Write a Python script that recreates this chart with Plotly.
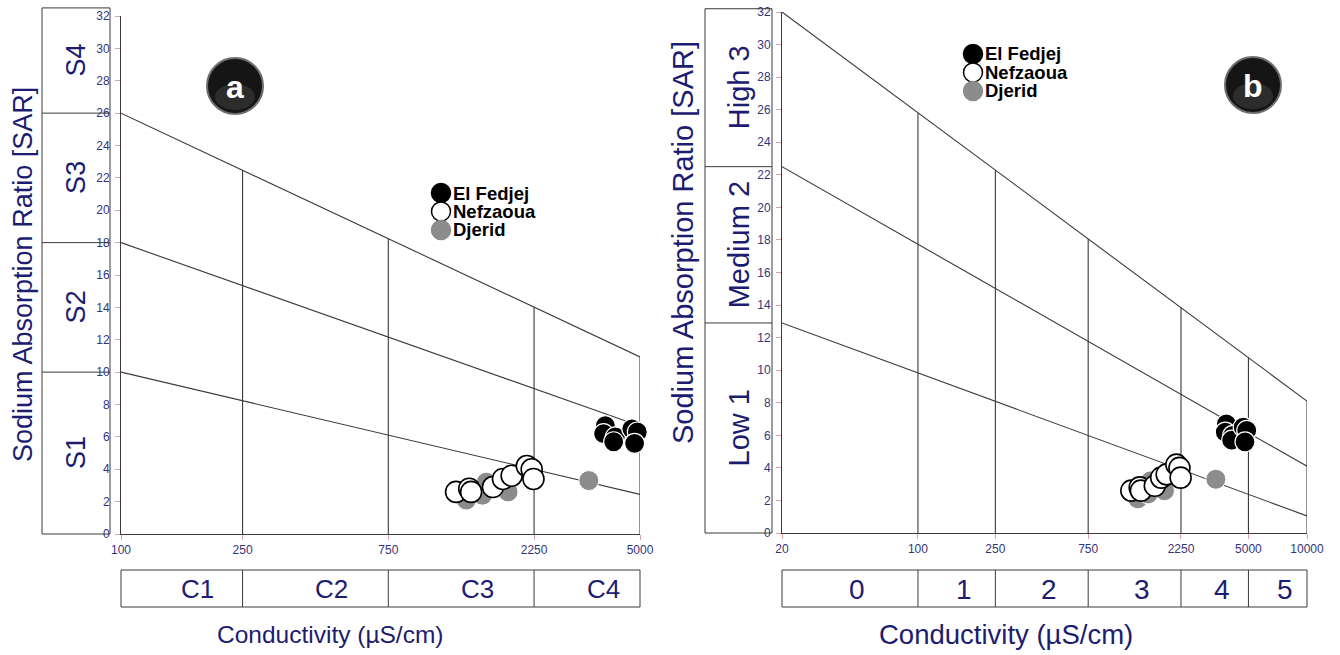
import math
import plotly.graph_objects as go

W, H = 1340, 655

# ---------------- data ----------------
ec_fedjej = [3850, 3800, 4150, 4100, 4700, 4900, 4800]
sar_fedjej = [6.7, 6.2, 6.0, 5.7, 6.5, 6.3, 5.6]

ec_nefzaoua = [1250, 1380, 1400, 1650, 1780, 1900, 2130, 2210, 2240]
sar_nefzaoua = [2.6, 2.8, 2.6, 2.9, 3.4, 3.6, 4.2, 4.0, 3.4]

ec_djerid = [1350, 1525, 1570, 1850, 3400]
sar_djerid = [2.1, 2.4, 3.2, 2.6, 3.3]

series_names = ["El Fedjej", "Nefzaoua", "Djerid"]

# panel a (USSL / Richards)
a_line_x = [100, 5000]
a_line_start = [10, 18, 26]
a_line_end = [2.45, 6.67, 10.94]
a_ec_bounds = [100, 250, 750, 2250, 5000]
a_ec_labels = ["C1", "C2", "C3", "C4"]
a_sar_bounds = [0, 10, 18, 26, 32.5]
a_sar_labels = ["S1", "S2", "S3", "S4"]
a_ticks = [100, 250, 750, 2250, 5000]

# panel b
b_line_x = [20, 10000]
b_line_start = [12.9, 22.5, 32]
b_line_end = [1.05, 4.1, 8.1]
b_ec_bounds = [20, 100, 250, 750, 2250, 5000, 10000]
b_ec_labels = ["0", "1", "2", "3", "4", "5"]
b_sar_bounds = [0, 12.9, 22.5, 32.2]
b_sar_labels = ["Low 1", "Medium 2", "High 3"]
b_ticks = [20, 100, 250, 750, 2250, 5000, 10000]

y_ticks = list(range(0, 33, 2))

# ---------------- styling ----------------
FONT = "Liberation Sans, Arial, sans-serif"
NAVY = "#1c1c70"
TICKNAVY = "#34347a"
LINE = "#3a3a3a"
TICKCOL = "#dba3a3"
GRAY = "#8c8c8c"


def fx(px):
    return px / W


def fy(py):
    return 1 - py / H


fig = go.Figure()

panels = [
    dict(xa="x", ya="y", xname="xaxis", yname="yaxis",
         xdom=[fx(121), fx(640)], ydom=[fy(534), fy(16)],
         line_x=a_line_x, ls=a_line_start, le=a_line_end,
         ec_bounds=a_ec_bounds, ec_labels=a_ec_labels,
         sar_bounds=a_sar_bounds, sar_labels=a_sar_labels, ticks=a_ticks,
         sidebox=(42, 110), ec_shift=16, side_font=27,
         ytitle=(23, 275, 27), xtitle=(330, 634, 24.5), bottom_font=26,
         legend=(441, 193), badge=(235, 86, "a")),
    dict(xa="x2", ya="y2", xname="xaxis2", yname="yaxis2",
         xdom=[fx(782), fx(1307)], ydom=[fy(533), fy(12)],
         line_x=b_line_x, ls=b_line_start, le=b_line_end,
         ec_bounds=b_ec_bounds, ec_labels=b_ec_labels,
         sar_bounds=b_sar_bounds, sar_labels=b_sar_labels, ticks=b_ticks,
         sidebox=(705, 772), ec_shift=7, side_font=29,
         ytitle=(683, 243, 29), xtitle=(1006, 634, 27.5), bottom_font=28,
         legend=(973, 54), badge=(1253, 85, "b")),
]

shapes = []
annotations = []


def ann(**kw):
    kw.setdefault("showarrow", False)
    kw.setdefault("xanchor", "center")
    kw.setdefault("yanchor", "middle")
    annotations.append(kw)


for p in panels:
    xa, ya = p["xa"], p["ya"]
    lx0, lx1 = p["line_x"]
    # classification lines
    for s, e in zip(p["ls"], p["le"]):
        fig.add_trace(go.Scatter(x=[lx0, lx1], y=[s, e], mode="lines",
                                 line=dict(color=LINE, width=1.1),
                                 xaxis=xa, yaxis=ya, hoverinfo="skip",
                                 showlegend=False, cliponaxis=False))
    # vertical boundaries up to the top line
    ts, te = p["ls"][-1], p["le"][-1]
    vx, vy = [], []
    for b in p["ec_bounds"][1:]:
        t = (math.log10(b) - math.log10(lx0)) / (math.log10(lx1) - math.log10(lx0))
        top = ts + (te - ts) * t
        vx += [b, b, None]
        vy += [0, top, None]
    fig.add_trace(go.Scatter(x=vx, y=vy, mode="lines",
                             line=dict(color=LINE, width=1.1),
                             xaxis=xa, yaxis=ya, hoverinfo="skip",
                             showlegend=False, cliponaxis=False))
    # data points
    fig.add_trace(go.Scatter(x=ec_djerid, y=sar_djerid, mode="markers", name="Djerid",
                             marker=dict(size=20, color=GRAY, line=dict(color="white", width=1)),
                             xaxis=xa, yaxis=ya, cliponaxis=False, showlegend=False))
    fig.add_trace(go.Scatter(x=ec_nefzaoua, y=sar_nefzaoua, mode="markers", name="Nefzaoua",
                             marker=dict(size=21, color="white", line=dict(color="black", width=1.6)),
                             xaxis=xa, yaxis=ya, cliponaxis=False, showlegend=False))
    fig.add_trace(go.Scatter(x=ec_fedjej, y=sar_fedjej, mode="markers", name="El Fedjej",
                             marker=dict(size=20, color="black", line=dict(color="white", width=1.2)),
                             xaxis=xa, yaxis=ya, cliponaxis=False, showlegend=False))

    # side SAR box
    bx0, bx1 = p["sidebox"]
    ymax = 32.0
    shapes.append(dict(type="rect", xref="paper", yref=ya + " domain",
                       x0=fx(bx0), x1=fx(bx1), y0=0, y1=p["sar_bounds"][-1] / ymax,
                       line=dict(color=LINE, width=1), fillcolor="rgba(0,0,0,0)"))
    for v in p["sar_bounds"][1:-1]:
        shapes.append(dict(type="line", xref="paper", yref=ya, x0=fx(bx0), x1=fx(bx1),
                           y0=v, y1=v, line=dict(color=LINE, width=1)))
    for lo, hi, lab in zip(p["sar_bounds"][:-1], p["sar_bounds"][1:], p["sar_labels"]):
        ann(xref="paper", yref=ya, x=fx((bx0 + bx1) / 2), y=(lo + hi) / 2,
            text=lab, textangle=-90,
            font=dict(family=FONT, size=p["side_font"], color=NAVY))

    # bottom conductivity box
    shapes.append(dict(type="rect", xref=xa + " domain", yref="paper", x0=0, x1=1,
                       y0=fy(607), y1=fy(570), line=dict(color=LINE, width=1),
                       fillcolor="rgba(0,0,0,0)"))
    for b in p["ec_bounds"][1:-1]:
        shapes.append(dict(type="line", xref=xa, yref="paper", x0=b, x1=b,
                           y0=fy(607), y1=fy(570), line=dict(color=LINE, width=1)))
    for lo, hi, lab in zip(p["ec_bounds"][:-1], p["ec_bounds"][1:], p["ec_labels"]):
        ann(xref=xa, yref="paper",
            x=(math.log10(lo) + math.log10(hi)) / 2, y=fy(589),
            xshift=p["ec_shift"], text=lab,
            font=dict(family=FONT, size=p["bottom_font"], color=NAVY))

    # axis titles
    tx, tyc, tsz = p["ytitle"]
    ann(xref="paper", yref="paper", x=fx(tx), y=fy(tyc),
        text="Sodium Absorption Ratio [SAR]", textangle=-90,
        font=dict(family=FONT, size=tsz, color=NAVY))
    cx, cy, csz = p["xtitle"]
    ann(xref="paper", yref="paper", x=fx(cx), y=fy(cy),
        text="Conductivity (µS/cm)",
        font=dict(family=FONT, size=csz, color=NAVY))

    # legend (manual)
    lgx, lgy = p["legend"]
    styles = [("black", "black"), ("white", "black"), (GRAY, GRAY)]
    for i, (nm, (fc, lc)) in enumerate(zip(series_names, styles)):
        yy = lgy + i * 18.5
        shapes.append(dict(type="circle", xref="paper", yref="paper",
                           xsizemode="pixel", ysizemode="pixel",
                           xanchor=fx(lgx), yanchor=fy(yy),
                           x0=-9.5, x1=9.5, y0=-9.5, y1=9.5,
                           fillcolor=fc, line=dict(color=lc, width=1.5)))
        ann(xref="paper", yref="paper", x=fx(lgx + 10), y=fy(yy),
            xanchor="left", text="<b>" + nm + "</b>",
            font=dict(family=FONT, size=18.5, color="black"))

    # panel badge
    bxc, byc, letter = p["badge"]
    shapes.append(dict(type="circle", xref="paper", yref="paper",
                       xsizemode="pixel", ysizemode="pixel",
                       xanchor=fx(bxc), yanchor=fy(byc),
                       x0=-28, x1=28, y0=-28, y1=28,
                       fillcolor="#151515", line=dict(color="#6e6e6e", width=2)))
    shapes.append(dict(type="circle", xref="paper", yref="paper",
                       xsizemode="pixel", ysizemode="pixel",
                       xanchor=fx(bxc), yanchor=fy(byc + 10),
                       x0=-20, x1=20, y0=-14, y1=12,
                       fillcolor="rgba(255,255,255,0.10)", line=dict(width=0)))
    ann(xref="paper", yref="paper", x=fx(bxc), y=fy(byc + 1),
        text="<b>" + letter + "</b>",
        font=dict(family=FONT, size=32, color="white"))

    # axes
    fig.update_layout(**{
        p["xname"]: dict(type="log", domain=p["xdom"],
                         range=[math.log10(p["ec_bounds"][0]), math.log10(p["ec_bounds"][-1])],
                         tickvals=p["ticks"], ticktext=[str(t) for t in p["ticks"]],
                         ticks="outside", ticklen=5, tickcolor=TICKCOL, tickwidth=1,
                         showline=True, linecolor=LINE, linewidth=1,
                         showgrid=False, zeroline=False, anchor=ya, automargin=False,
                         tickfont=dict(family=FONT, size=12, color=TICKNAVY)),
        p["yname"]: dict(domain=p["ydom"], range=[0, 32],
                         tickvals=y_ticks, ticks="outside", ticklen=5,
                         tickcolor=TICKCOL, tickwidth=1, ticklabelstandoff=3,
                         showline=True, linecolor=LINE, linewidth=1,
                         showgrid=False, zeroline=False, anchor=xa, automargin=False,
                         tickfont=dict(family=FONT, size=12, color=TICKNAVY)),
    })

fig.update_layout(width=W, height=H, margin=dict(l=0, r=0, t=0, b=0, autoexpand=False),
                  paper_bgcolor="white", plot_bgcolor="white",
                  showlegend=False, shapes=shapes, annotations=annotations)

fig.write_html("out.html", config={"displayModeBar": False},
               post_script="document.body.style.margin='0px';")
